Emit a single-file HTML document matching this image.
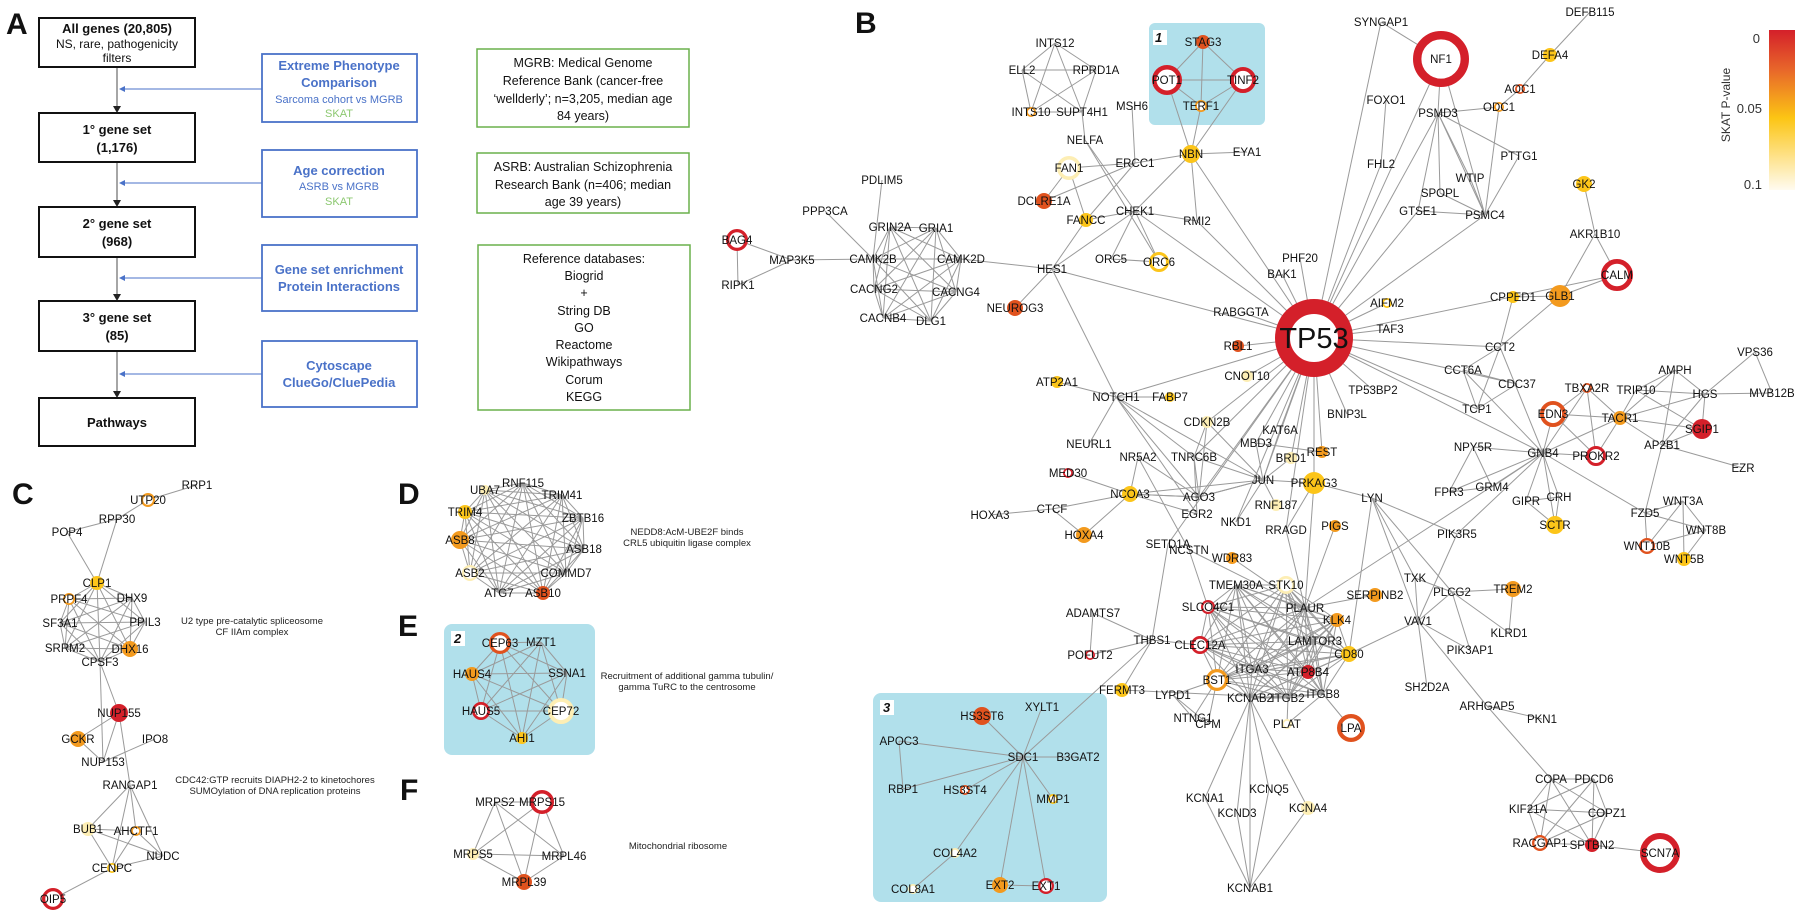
<!DOCTYPE html>
<html><head><meta charset="utf-8"><style>
body{margin:0;background:#fff;width:1800px;height:916px;overflow:hidden;font-family:"Liberation Sans",sans-serif}
svg{position:absolute;left:0;top:0}
</style></head><body>
<svg id="s" width="1800" height="916" viewBox="0 0 1800 916" xmlns="http://www.w3.org/2000/svg" font-family="Liberation Sans, sans-serif">
<defs><linearGradient id="g" x1="0" y1="0" x2="0" y2="1"><stop offset="0" stop-color="#d4202a"/><stop offset="0.25" stop-color="#e8672a"/><stop offset="0.55" stop-color="#fcc514"/><stop offset="1" stop-color="#fffbf0"/></linearGradient></defs>
<!-- panel boxes -->
<rect x="1149" y="23" width="116" height="102" rx="6" fill="#b1e0eb"/>
<rect x="873" y="693" width="234" height="209" rx="8" fill="#b1e0eb"/>
<rect x="444" y="624" width="151" height="131" rx="8" fill="#b1e0eb"/>
<rect x="1153" y="30" width="14" height="15" fill="#fff"/><rect x="451" y="631" width="14" height="15" fill="#fff"/><rect x="880" y="700" width="14" height="15" fill="#fff"/>
<g font-weight="bold" font-style="italic" font-size="13" fill="#111"><text x="1155" y="42">1</text><text x="454" y="643">2</text><text x="883" y="712">3</text></g>
<g font-weight="bold" font-size="30" fill="#111"><text x="6" y="34">A</text><text x="855" y="33">B</text><text x="12" y="504">C</text><text x="398" y="504">D</text><text x="398" y="636">E</text><text x="400" y="800">F</text></g>
<!-- Panel A -->
<g stroke="#888" stroke-width="1.5"><line x1="117" y1="67" x2="117" y2="108"/><line x1="117" y1="162" x2="117" y2="202"/><line x1="117" y1="257" x2="117" y2="296"/><line x1="117" y1="351" x2="117" y2="393"/></g>
<g fill="#222"><path d="M113,106h8l-4,7z"/><path d="M113,200h8l-4,7z"/><path d="M113,294h8l-4,7z"/><path d="M113,391h8l-4,7z"/></g>
<g stroke="#4a72c8" stroke-width="1"><line x1="262" y1="89" x2="124" y2="89"/><line x1="262" y1="183" x2="124" y2="183"/><line x1="262" y1="278" x2="124" y2="278"/><line x1="262" y1="374" x2="124" y2="374"/></g>
<g fill="#4a72c8"><path d="M119,89l6,-3v6z"/><path d="M119,183l6,-3v6z"/><path d="M119,278l6,-3v6z"/><path d="M119,374l6,-3v6z"/></g>
<g fill="#fff" stroke="#111" stroke-width="2"><rect x="39" y="18" width="156" height="49"/><rect x="39" y="113" width="156" height="49"/><rect x="39" y="207" width="156" height="50"/><rect x="39" y="301" width="156" height="50"/><rect x="39" y="398" width="156" height="48"/></g>
<g fill="#fff" stroke="#4a72c8" stroke-width="1.8"><rect x="262" y="54" width="155" height="68"/><rect x="262" y="150" width="155" height="67"/><rect x="262" y="245" width="155" height="66"/><rect x="262" y="341" width="155" height="66"/></g>
<g fill="#fff" stroke="#6ab04c" stroke-width="1.5"><rect x="477" y="49" width="212" height="78"/><rect x="477" y="153" width="212" height="60"/><rect x="478" y="245" width="212" height="165"/></g>
<g font-size="12" fill="#111" text-anchor="middle">
<text x="117" y="33" font-weight="bold" font-size="13">All genes (20,805)</text><text x="117" y="48">NS, rare, pathogenicity</text><text x="117" y="62">filters</text>
<text x="117" y="134" font-weight="bold" font-size="13">1° gene set</text><text x="117" y="152" font-weight="bold" font-size="13">(1,176)</text>
<text x="117" y="228" font-weight="bold" font-size="13">2° gene set</text><text x="117" y="246" font-weight="bold" font-size="13">(968)</text>
<text x="117" y="322" font-weight="bold" font-size="13">3° gene set</text><text x="117" y="340" font-weight="bold" font-size="13">(85)</text>
<text x="117" y="427" font-weight="bold" font-size="13">Pathways</text>
</g>
<g fill="#4a72c8" font-size="12" text-anchor="middle">
<text x="339" y="70" font-weight="bold" font-size="13">Extreme Phenotype</text><text x="339" y="87" font-weight="bold" font-size="13">Comparison</text><text x="339" y="103" font-size="11">Sarcoma cohort vs MGRB</text><text x="339" y="117" font-size="11" fill="#8cc870">SKAT</text>
<text x="339" y="175" font-weight="bold" font-size="13">Age correction</text><text x="339" y="190" font-size="11">ASRB vs MGRB</text><text x="339" y="205" font-size="11" fill="#8cc870">SKAT</text>
<text x="339" y="274" font-weight="bold" font-size="13">Gene set enrichment</text><text x="339" y="291" font-weight="bold" font-size="13">Protein Interactions</text>
<text x="339" y="370" font-weight="bold" font-size="13">Cytoscape</text><text x="339" y="387" font-weight="bold" font-size="13">ClueGo/CluePedia</text>
</g>
<g font-size="12.5" fill="#111" text-anchor="middle">
<text x="583" y="67">MGRB: Medical Genome</text><text x="583" y="85">Reference Bank (cancer-free</text><text x="583" y="103">‘wellderly’; n=3,205, median age</text><text x="583" y="120">84 years)</text>
<text x="583" y="171">ASRB: Australian Schizophrenia</text><text x="583" y="189">Research Bank (n=406; median</text><text x="583" y="206">age 39 years)</text>
<text x="584" y="263">Reference databases:</text><text x="584" y="280">Biogrid</text><text x="584" y="297">+</text><text x="584" y="315">String DB</text><text x="584" y="332">GO</text><text x="584" y="349">Reactome</text><text x="584" y="366">Wikipathways</text><text x="584" y="384">Corum</text><text x="584" y="401">KEGG</text>
</g>
<!-- color bar -->
<rect x="1769" y="30" width="26" height="160" fill="url(#g)"/>
<g font-size="13" fill="#333" text-anchor="end"><text x="1760" y="43">0</text><text x="1762" y="113">0.05</text><text x="1762" y="189">0.1</text></g>
<text transform="translate(1730,105) rotate(-90)" font-size="12" text-anchor="middle" fill="#333">SKAT P-value</text>
<g font-size="9.5" fill="#222" text-anchor="middle">
<text x="252" y="624">U2 type pre-catalytic spliceosome</text><text x="252" y="635">CF IIAm complex</text>
<text x="275" y="783">CDC42:GTP recruits DIAPH2-2 to kinetochores</text><text x="275" y="794">SUMOylation of DNA replication proteins</text>
<text x="687" y="535">NEDD8:AcM-UBE2F binds</text><text x="687" y="546">CRL5 ubiquitin ligase complex</text>
<text x="687" y="679">Recruitment of additional gamma tubulin/</text><text x="687" y="690">gamma TuRC to the centrosome</text>
<text x="678" y="849">Mitochondrial ribosome</text>
</g>
<g id="E" stroke="#9a9a9a" stroke-width="1" fill="none"></g>
<g id="N"></g>
</svg>
<script>
var C={R:"#d4202a",O:"#e0521e",o:"#f39a1e",Y:"#fcc51a",P:"#fdeeb4"};
var nodes={};
function n(s){s.split(";").forEach(function(t){t=t.trim();if(!t)return;var p=t.split(",");nodes[p[0]]={x:+p[1],y:+p[2],c:p[3]||"",r:p[4]?+p[4]:0,f:p[5]||""};});}
// f: "f" filled, "r" ring
n("TP53,1314,338,R,39,r;NF1,1441,59,R,28,r;CALM,1617,275,R,16,r;SCN7A,1660,853,R,20,r;LPA,1351,728,O,14,r;EDN3,1553,414,O,13,r;BAG4,737,240,R,11,r;POT1,1167,80,R,15,r;TINF2,1243,80,R,13,r;STAG3,1203,42,O,7,f;TERF1,1201,106,o,6,r;NBN,1191,154,Y,9,f");
n("INTS12,1055,43;ELL2,1022,70;RPRD1A,1096,70;INTS10,1031,112,o,5,r;SUPT4H1,1082,112;MSH6,1132,106;NELFA,1085,140;EYA1,1247,152;ERCC1,1135,163;FAN1,1069,168,P,12,r;DCLRE1A,1044,201,O,8,f;FANCC,1086,220,Y,7,f;CHEK1,1135,211;RMI2,1197,221;ORC5,1111,259;ORC6,1159,262,Y,10,r;HES1,1052,269;NEUROG3,1015,308,O,8,f;PDLIM5,882,180;PPP3CA,825,211;GRIN2A,890,227;GRIA1,936,228;CAMK2B,873,259;CAMK2D,961,259;CACNG2,874,289;CACNG4,956,292;CACNB4,883,318;DLG1,931,321;MAP3K5,792,260;RIPK1,738,285");
n("PHF20,1300,258;BAK1,1282,274;RABGGTA,1241,312;RBL1,1238,346,O,6,f;CNOT10,1247,376,P,6,f;TAF3,1390,329;AIFM2,1387,303,Y,5,r;CPPED1,1513,297,Y,6,f;GLB1,1560,296,o,11,f;GK2,1584,184,Y,8,f;AKR1B10,1595,234;DEFB115,1590,12;DEFA4,1550,55,Y,7,f;AOC1,1520,89,O,5,r;ODC1,1499,107,o,5,r;SYNGAP1,1381,22;FOXO1,1386,100;PSMD3,1438,113;FHL2,1381,164;PTTG1,1519,156;WTIP,1470,178;SPOPL,1440,193;GTSE1,1418,211;PSMC4,1485,215");
n("CCT2,1500,347;CCT6A,1463,370;CDC37,1517,384;TCP1,1477,409;TP53BP2,1373,390;BNIP3L,1347,414;TBXA2R,1587,388,O,5,r;TRIP10,1636,390;AMPH,1675,370;VPS36,1755,352;HGS,1705,394;MVB12B,1772,393;TACR1,1620,418,o,7,f;AP2B1,1662,445;SGIP1,1702,429,R,10,f;EZR,1743,468;PROKR2,1596,456,R,10,r;GNB4,1543,453;NPY5R,1473,447;GRM4,1492,487;FPR3,1449,492;GIPR,1526,501;CRH,1559,497;SCTR,1555,525,Y,9,f;FZD5,1645,513;WNT3A,1683,501;WNT8B,1706,530;WNT10B,1647,546,O,8,r;WNT5B,1684,559,Y,7,f");
n("NOTCH1,1116,397;FABP7,1170,397,Y,5,f;ATP2A1,1057,382,Y,6,f;CDKN2B,1207,422,P,6,f;NEURL1,1089,444;KAT6A,1280,430;MBD3,1256,443;BRD1,1291,458,P,6,f;REST,1322,452,o,6,f;NR5A2,1138,457;TNRC6B,1194,457;MED30,1068,473,R,5,r;NCOA3,1130,494,Y,8,f;AGO3,1199,497;JUN,1263,480;PRKAG3,1314,483,Y,11,f;LYN,1372,498;RNF187,1276,505,P,6,f;HOXA3,990,515;CTCF,1052,509;EGR2,1197,514;HOXA4,1084,535,o,8,f;NKD1,1236,522;RRAGD,1286,530;PIGS,1335,526,o,6,f;SETD1A,1168,544;NCSTN,1189,550;WDR83,1232,558,o,6,f;PIK3R5,1457,534");
n("TMEM30A,1236,585;STK10,1286,585,P,9,r;SLCO4C1,1208,607,R,7,r;PLAUR,1305,608;SERPINB2,1375,595,o,7,f;TXK,1415,578;TREM2,1513,589,o,8,f;PLCG2,1452,592;KLK4,1337,620,o,7,f;LAMTOR3,1315,641;VAV1,1418,621;KLRD1,1509,633;CD80,1349,654,Y,8,f;PIK3AP1,1470,650;CLEC12A,1200,645,R,9,r;ITGA3,1252,669;ATP8B4,1308,672,R,7,f;BST1,1217,680,o,11,r;KCNAB2,1250,698;ITGB2,1288,698;ITGB8,1323,694;SH2D2A,1427,687;ADAMTS7,1093,613;THBS1,1152,640;POFUT2,1090,655,R,5,r;FERMT3,1122,690,Y,7,f;LYPD1,1173,695;NTNG1,1193,718;CPM,1208,724;PLAT,1287,724,P,5,r;KCNA1,1205,798;KCNQ5,1269,789;KCND3,1237,813;KCNA4,1308,808,P,7,f;KCNAB1,1250,888;ARHGAP5,1487,706;PKN1,1542,719;COPA,1551,779;PDCD6,1594,779;KIF21A,1528,809;COPZ1,1607,813;RACGAP1,1540,843,O,8,r;SPTBN2,1592,845,R,7,f");
n("HS3ST6,982,716,O,9,f;XYLT1,1042,707;APOC3,899,741;SDC1,1023,757;B3GAT2,1078,757;RBP1,903,789;HS3ST4,965,790,O,5,r;MMP1,1053,799,Y,5,r;COL4A2,955,853,P,5,r;COL8A1,913,889,P,5,r;EXT2,1000,885,o,8,f;EXT1,1046,886,R,8,r");
n("RRP1,197,485;UTP20,148,500,o,7,r;RPP30,117,519;POP4,67,532;CLP1,97,583,Y,7,f;PRPF4,69,599,o,6,r;DHX9,132,598;SF3A1,60,623;PPIL3,145,622;SRRM2,65,648;DHX16,130,649,o,8,f;CPSF3,100,662;NUP155,119,713,R,9,f;GCKR,78,739,o,8,f;IPO8,155,739;NUP153,103,762;RANGAP1,130,785;BUB1,88,829,P,7,f;AHCTF1,136,831,o,5,r;NUDC,163,856;CENPC,112,868,Y,5,r;OIP5,53,899,R,11,r");
n("UBA7,485,490,P,5,f;RNF115,523,483;TRIM41,562,495;TRIM4,465,512,Y,7,f;ZBTB16,583,518;ASB8,460,540,o,9,f;ASB18,584,549;ASB2,470,573,P,8,r;COMMD7,566,573;ATG7,499,593;ASB10,543,593,O,7,f");
n("CEP63,500,643,O,11,r;MZT1,541,642;HAUS4,472,674,o,7,f;SSNA1,567,673;HAUS5,481,711,R,9,r;CEP72,561,711,P,13,r;AHI1,522,738,Y,6,f");
n("MRPS2,495,802;MRPS15,542,802,R,12,r;MRPS5,473,854,P,6,f;MRPL46,564,856;MRPL39,524,882,O,8,f");
var E=[];function e(a,list){list.split(" ").forEach(function(b){if(b)E.push([a,b]);});}
function clique(list){var l=list.split(" ");for(var i=0;i<l.length;i++)for(var j=i+1;j<l.length;j++)E.push([l[i],l[j]]);}
e("TP53","NF1 PHF20 BAK1 RABGGTA RBL1 CNOT10 TAF3 AIFM2 CCT2 TP53BP2 BNIP3L PSMD3 FHL2 GTSE1 PSMC4 SYNGAP1 CHEK1 NBN HES1 KAT6A MBD3 BRD1 REST JUN TNRC6B AGO3 PRKAG3 CDKN2B NKD1 RRAGD CDC37 RMI2 NOTCH1 SETD1A TCP1 GNB4");
clique("POT1 TINF2 STAG3 TERF1");e("NBN","POT1 TERF1 TINF2 EYA1 ERCC1 CHEK1 RMI2");clique("INTS12 ELL2 RPRD1A INTS10 SUPT4H1");e("SUPT4H1","NELFA");
clique("GRIN2A GRIA1 CAMK2B CAMK2D CACNG2 CACNG4 CACNB4 DLG1");
e("CAMK2B","PPP3CA MAP3K5 PDLIM5");e("MAP3K5","BAG4 RIPK1");e("BAG4","RIPK1");e("CAMK2D","HES1");
e("ERCC1","MSH6 FAN1 DCLRE1A FANCC");e("NELFA","CHEK1 ORC6");e("CHEK1","FANCC ORC5 HES1 ORC6 RMI2");e("ORC5","ORC6");e("HES1","NEUROG3 FANCC");e("FAN1","FANCC DCLRE1A");
e("PSMD3","NF1 PTTG1 WTIP SPOPL PSMC4 ODC1 GTSE1");e("NF1","PSMC4");e("PSMC4","PTTG1 WTIP SPOPL GTSE1 ODC1");e("FOXO1","FHL2");e("SYNGAP1","NF1");e("ODC1","AOC1");e("AOC1","DEFA4");e("DEFA4","DEFB115");e("GK2","AKR1B10");e("AKR1B10","GLB1 CALM");e("GLB1","CPPED1 CALM CCT2");e("CPPED1","CCT2");e("TP53","CALM");
e("CCT2","CCT6A TCP1 GNB4");e("CCT6A","TCP1 CDC37 GNB4");e("CDC37","TCP1");
e("GNB4","EDN3 TACR1 PROKR2 NPY5R GRM4 FPR3 GIPR CRH SCTR FZD5 TBXA2R PIK3R5");clique("EDN3 TBXA2R TACR1 PROKR2");
e("TACR1","TRIP10 AP2B1 SGIP1 HGS AMPH");e("TRIP10","AMPH HGS SGIP1");e("HGS","AMPH VPS36 MVB12B AP2B1 SGIP1");e("VPS36","MVB12B");e("AP2B1","AMPH EZR SGIP1 FZD5");e("NPY5R","FPR3 GRM4");e("FPR3","GRM4");e("GIPR","CRH SCTR");e("CRH","SCTR");
e("FZD5","WNT3A WNT8B WNT10B");e("WNT3A","WNT8B WNT10B WNT5B");e("WNT8B","WNT5B WNT10B");
e("NOTCH1","ATP2A1 FABP7 NEURL1 JUN AGO3 TNRC6B EGR2 HES1");e("JUN","KAT6A MBD3 BRD1 AGO3 NCOA3 NKD1 CDKN2B PRKAG3 RNF187 TNRC6B");e("MBD3","REST");e("AGO3","TNRC6B NCOA3 CDKN2B JUN");e("TNRC6B","CDKN2B EGR2");e("NR5A2","NCOA3 AGO3 NCSTN");e("MED30","NCOA3");e("CTCF","HOXA3 NCOA3 HOXA4");e("NCOA3","HOXA4 AGO3 EGR2");
e("PRKAG3","LYN RRAGD PLAUR");
clique("SLCO4C1 TMEM30A STK10 PLAUR CLEC12A ITGA3 KCNAB2 ITGB2 ITGB8 LAMTOR3 ATP8B4 BST1 CD80 KLK4");
e("PLAUR","SERPINB2 NCSTN WDR83 PIGS RRAGD");e("NCSTN","SLCO4C1");e("SETD1A","THBS1");e("LYN","PIK3R5 TXK PLCG2 VAV1 CD80");e("PLCG2","TREM2 KLRD1 VAV1 PIK3AP1 TXK");e("TREM2","KLRD1");e("VAV1","SH2D2A ARHGAP5 PIK3AP1 CD80 PIK3R5 TXK");e("ARHGAP5","PKN1 COPA");e("GNB4","PLAUR");
e("SDC1","HS3ST6 XYLT1 APOC3 B3GAT2 RBP1 HS3ST4 MMP1 COL4A2 EXT2 EXT1 THBS1");e("EXT1","EXT2");e("COL4A2","COL8A1");e("APOC3","RBP1");
e("THBS1","ADAMTS7 POFUT2 FERMT3 CLEC12A");e("ADAMTS7","POFUT2");e("ITGB2","FERMT3 PLAT");e("BST1","LYPD1 NTNG1 CPM");e("LYPD1","NTNG1 CPM");e("KCNAB2","KCNA1 KCNQ5 KCND3 KCNA4 KCNAB1");e("KCNAB1","KCNA1 KCND3 KCNA4 KCNQ5");e("ITGB8","LPA PLAT");
clique("COPA PDCD6 KIF21A COPZ1 RACGAP1 SPTBN2");e("SPTBN2","SCN7A");
e("UTP20","RRP1 RPP30");e("RPP30","POP4 CLP1");e("POP4","CLP1");clique("CLP1 PRPF4 DHX9 SF3A1 PPIL3 SRRM2 DHX16 CPSF3");e("CPSF3","NUP155 NUP153");
clique("NUP155 GCKR NUP153");e("NUP153","IPO8");e("NUP155","RANGAP1");e("RANGAP1","BUB1 AHCTF1 NUDC CENPC");clique("BUB1 AHCTF1 NUDC CENPC");e("CENPC","OIP5");
clique("UBA7 RNF115 TRIM41 TRIM4 ZBTB16 ASB8 ASB18 ASB2 COMMD7 ATG7 ASB10");
clique("CEP63 MZT1 HAUS4 SSNA1 HAUS5 CEP72 AHI1");clique("MRPS2 MRPS15 MRPS5 MRPL46 MRPL39");
var NS="http://www.w3.org/2000/svg",eg=document.getElementById("E"),ng=document.getElementById("N");
E.forEach(function(p){var a=nodes[p[0]],b=nodes[p[1]];if(!a||!b)return;var l=document.createElementNS(NS,"line");l.setAttribute("x1",a.x);l.setAttribute("y1",a.y);l.setAttribute("x2",b.x);l.setAttribute("y2",b.y);eg.appendChild(l);});
for(var k in nodes){var d=nodes[k];if(d.c){var r=d.r||6,c=document.createElementNS(NS,"circle");c.setAttribute("cx",d.x);c.setAttribute("cy",d.y);
if(d.f=="r"){var sw=k=="TP53"?15:Math.max(1.8,r*0.3);c.setAttribute("r",r-sw/2);c.setAttribute("fill","#fff");c.setAttribute("stroke",C[d.c]);c.setAttribute("stroke-width",sw);}
else{c.setAttribute("r",r);c.setAttribute("fill",C[d.c]);}
ng.appendChild(c);}
var t=document.createElementNS(NS,"text");t.setAttribute("x",d.x);t.setAttribute("y",d.y+(k=="TP53"?10:4));t.setAttribute("text-anchor","middle");t.setAttribute("font-size",k=="TP53"?29:11.5);t.setAttribute("fill","#111");t.textContent=k;ng.appendChild(t);}
</script>
</body></html>
